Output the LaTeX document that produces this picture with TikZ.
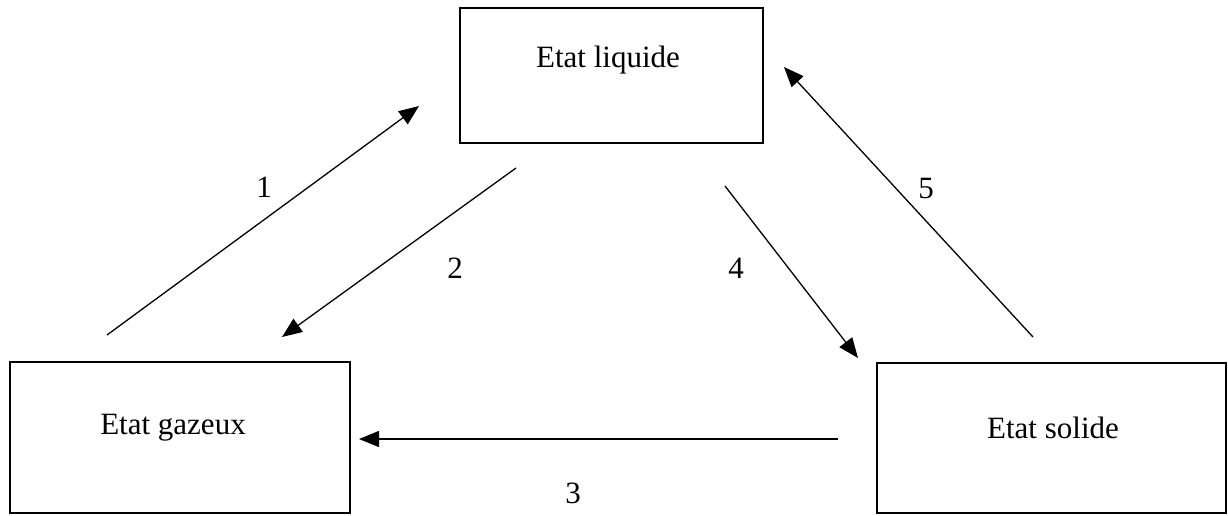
\documentclass[tikz,border=0pt]{standalone}
\usepackage{fontspec}
\setmainfont{Liberation Serif}
\usetikzlibrary{arrows.meta}
\begin{document}
\begin{tikzpicture}[x=1pt,y=-1pt,
  box/.style={draw,line width=1.5pt,inner sep=0pt},
  lbl/.style={font=\fontsize{31}{36}\selectfont,inner sep=0pt},
  conn/.style={line width=1.3pt,-{Triangle[length=20pt,width=16pt]}}]
\useasboundingbox (0,0) rectangle (1228,515);
% boxes
\node[box,minimum width=303pt,minimum height=135pt] (liq) at (611.5,75.5) {};
\node[box,minimum width=340pt,minimum height=151pt] (gaz) at (180,437.5) {};
\node[box,minimum width=349pt,minimum height=150pt] (sol) at (1051.5,438) {};
% texts
\node[lbl] (tliq) at (608,60) {Etat liquide};
\node[lbl] (tgaz) at (173,428) {Etat gazeux};
\node[lbl] (tsol) at (1053,428) {Etat solide};
% connector ends
\coordinate (a1) at (107,335); \coordinate (b1) at (419,106);
\coordinate (a2) at (516,168); \coordinate (b2) at (282,337);
\coordinate (a3) at (838,439); \coordinate (b3) at (359,439);
\coordinate (a4) at (725,186); \coordinate (b4) at (858,358);
\coordinate (a5) at (1033,337); \coordinate (b5) at (784,67);
\draw[conn] (a1) -- (b1);
\draw[conn] (a2) -- (b2);
\draw[conn] (a3) -- (b3);
\draw[conn] (a4) -- (b4);
\draw[conn] (a5) -- (b5);
% numbers
\node[lbl] (n1) at (264,187) {1};
\node[lbl] (n2) at (455,268) {2};
\node[lbl] (n3) at (573,493) {3};
\node[lbl] (n4) at (736,268) {4};
\node[lbl] (n5) at (926,188) {5};
\end{tikzpicture}
\end{document}
